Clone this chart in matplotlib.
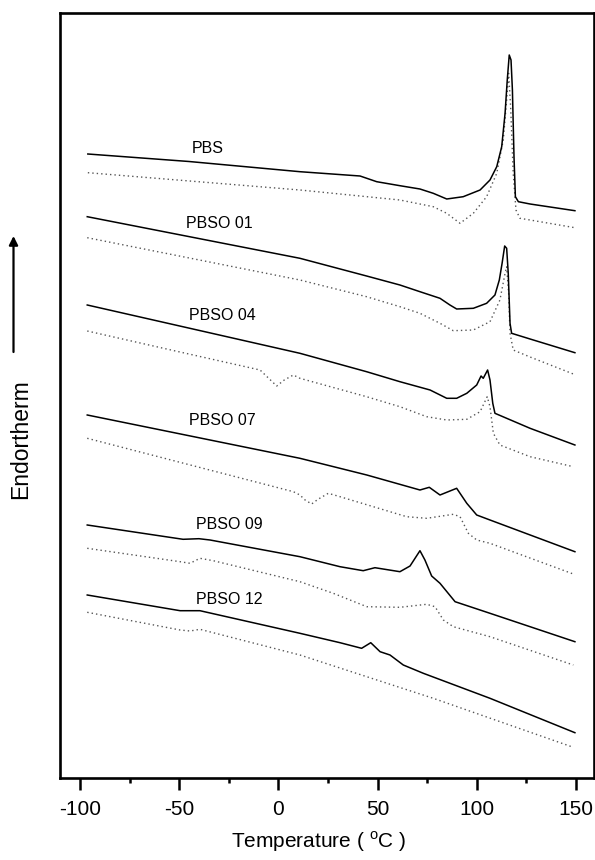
import matplotlib
matplotlib.use("Agg")
import matplotlib.pyplot as plt
from matplotlib.ticker import MultipleLocator

plt.rcParams['font.family'] = ['Liberation Sans', 'DejaVu Sans']
plt.rcParams['mathtext.fontset'] = 'custom'
plt.rcParams['mathtext.rm'] = 'Liberation Sans'

# ---------------- data (temperature in degC, heat flow in arbitrary units) -------------
labels = ["PBS", "PBSO 01", "PBSO 04", "PBSO 07", "PBSO 09", "PBSO 12"]

pbs_T = [-96, -45, 10.9, 41.2, 49.6, 61.3, 71.4, 78.1, 84.9, 93.2, 101.7, 106.7, 110.1, 112.6,
         114.3, 115.4, 116.4, 117.3, 118.0, 118.8, 119.5, 121.0, 126.9, 149.5]
pbs_H = [624, 616.5, 606.3, 602, 596.3, 592.3, 589, 584.7, 579, 581.3, 588, 598, 611.3, 631.3,
         664.7, 698, 723, 718, 688, 621.3, 581.3, 576.3, 574, 567.3]
pbs_dT = [-96, 10.9, 61.3, 78.1, 84.9, 91.6, 98.3, 105, 110.1, 113.4, 115.1, 116.1, 117.1,
          118.4, 119.8, 121.8, 126.9, 149.5]
pbs_dH = [605.3, 588, 578, 571.3, 564.7, 554.7, 564.7, 581.3, 604.7, 638, 678, 704.7, 671.3,
          604.7, 568, 559.7, 558, 550.3]

p01_T = [-96.3, 10.9, 44.5, 61.3, 71.4, 81.5, 86.5, 89.9, 98.3, 105, 109.2, 111.4, 112.8, 114.1,
         115.1, 115.9, 116.8, 117.6, 126.9, 149.5]
p01_H = [561.3, 519.7, 502, 493, 486.3, 479.7, 473, 469, 469.7, 474.7, 483, 498, 514.7, 532,
         529.7, 504.7, 454.7, 444.7, 439, 425.3]
p01_dT = [-96.3, 10.9, 44.5, 61.3, 71.4, 81.5, 88.2, 98.3, 106.7, 111.7, 114.3, 115.1, 116.1,
          116.8, 118.4, 126.9, 148.7]
p01_dH = [540.3, 498, 481.3, 471.3, 464.7, 454.7, 447.3, 448, 456.3, 478, 504.7, 511.3, 484.7,
          444.7, 428, 421, 404]

p04_T = [-96.3, 10.9, 44.5, 61.3, 76.5, 84.9, 89.9, 95, 100, 102.2, 103.3, 105.5, 106.7, 108.1,
         109.2, 126.9, 149.5]
p04_H = [473, 424.7, 406.3, 396.3, 388, 379.7, 379.7, 384.7, 393, 402, 399.7, 408, 398, 374.7,
         364.7, 349.7, 333]
p04_dT = [-96.3, -56.3, -9.2, -5, -0.8, 3, 7.6, 10.9, 44.5, 61.3, 74.8, 84.9, 95, 101.7, 105.3,
          106.7, 108.4, 111.7, 126.9, 148.7]
p04_dH = [447, 429, 408, 400, 392, 398, 403, 399.7, 381.3, 371.3, 361.3, 358, 358.7, 366.3, 381.3,
          371.3, 344.7, 333, 321.3, 311.3]

p07_T = [-96.3, 10.9, 31.1, 44.6, 71.4, 76.1, 81.5, 89.9, 95, 100, 106.7, 149.5]
p07_H = [363, 319.7, 309.7, 303, 288, 290.7, 283, 289.7, 274.7, 263, 258, 226.3]
p07_dT = [-96.3, 7.6, 10.9, 13.5, 16.8, 20, 25.2, 31.1, 47.9, 64.7, 74.8, 88.2, 91.6, 95.8, 100,
          106.7, 148.7]
p07_dH = [339.7, 286.3, 283, 278, 274, 278.7, 284.7, 281.3, 271.3, 261.3, 259.7, 263.7, 261.3,
          244.7, 238, 234.7, 204]

p09_T = [-96.3, -48, -40, -34.4, 10.9, 31.1, 42.8, 48.7, 61.3, 66.4, 71.4, 73.9, 77.3, 81.5, 89.1,
         106.7, 149.5]
p09_H = [253, 238.7, 239.3, 238, 221.3, 211.3, 207.3, 210.3, 206.3, 212, 227.3, 218, 202, 194.7,
         176.3, 164.7, 136.3]
p09_dT = [-96.3, -49.5, -44.5, -39.5, -32.8, 10.9, 27.7, 44.6, 61.3, 74.8, 79, 83.2, 88.2, 106.7,
          148.7]
p09_dH = [229.7, 216.3, 214.7, 219.7, 217.3, 196.3, 184.7, 171.3, 170.7, 173.7, 171.3, 158, 151.3,
          141.3, 113]

p12_T = [-96.3, -49.5, -39.5, 10.9, 31.1, 42, 46.6, 51.3, 56.3, 63, 73.1, 106.7, 149.5]
p12_H = [183, 167.3, 167.3, 144.7, 135.3, 129.7, 135.3, 126.3, 123, 113, 104.7, 79.7, 45.3]
p12_dT = [-96.3, -49.5, -44.5, -39.5, 10.9, 78.1, 148.7]
p12_dH = [165.7, 148, 147, 148.7, 123, 79.7, 30.7]

label_T = [-43.6, -46.7, -44.8, -45.0, -41.6, -41.6]
label_H = [625.3, 550.3, 458, 353, 249, 174]

x_ticks = [-100, -50, 0, 50, 100, 150]

# ---------------- figure -------------
W, H = 595, 860
fig = plt.figure(figsize=(W / 100, H / 100), dpi=100)
ax = fig.add_axes([60 / W, 1 - 778 / H, (594 - 60) / W, (778 - 13) / H])

solid = [(pbs_T, pbs_H), (p01_T, p01_H), (p04_T, p04_H), (p07_T, p07_H), (p09_T, p09_H), (p12_T, p12_H)]
dotted = [(pbs_dT, pbs_dH), (p01_dT, p01_dH), (p04_dT, p04_dH), (p07_dT, p07_dH), (p09_dT, p09_dH), (p12_dT, p12_dH)]

for (t, h) in dotted:
    ax.plot(t, h, color='#555555', lw=1.0, linestyle=(0, (1, 2.2)))
for (t, h) in solid:
    ax.plot(t, h, color='black', lw=1.1, solid_joinstyle='round')

for lab, tx, hy in zip(labels, label_T, label_H):
    ax.text(tx, hy, lab, fontsize=11.5, ha='left', va='baseline')

ax.set_xlim((60 - 278.3) / 1.984, (594 - 278.3) / 1.984)
ax.set_ylim(0, 765)
ax.set_xticks(x_ticks)
ax.set_xticklabels([str(v) for v in x_ticks])
ax.xaxis.set_minor_locator(MultipleLocator(25))
ax.set_yticks([])
ax.tick_params(axis='x', which='major', direction='out', length=8.6, width=1.8, labelsize=15, pad=7)
ax.tick_params(axis='x', which='minor', direction='out', length=3.8, width=1.8)
for s in ax.spines.values():
    s.set_linewidth(1.9)

fig.text(318.5 / W, 1 - 848 / H, 'Temperature ( $^{\\rm o}$C )', fontsize=15, ha='center', va='baseline')
fig.text(21 / W, 1 - 439 / H, 'Endortherm', fontsize=16.5, rotation=90, ha='center', va='center')
ax.annotate('', xy=(13.5 / W, 1 - 236 / H), xytext=(13.5 / W, 1 - 352 / H),
            xycoords='figure fraction', textcoords='figure fraction',
            arrowprops=dict(arrowstyle='-|>', lw=1.6, color='black', mutation_scale=13, shrinkA=0, shrinkB=0))

fig.savefig('out.png', dpi=100)
